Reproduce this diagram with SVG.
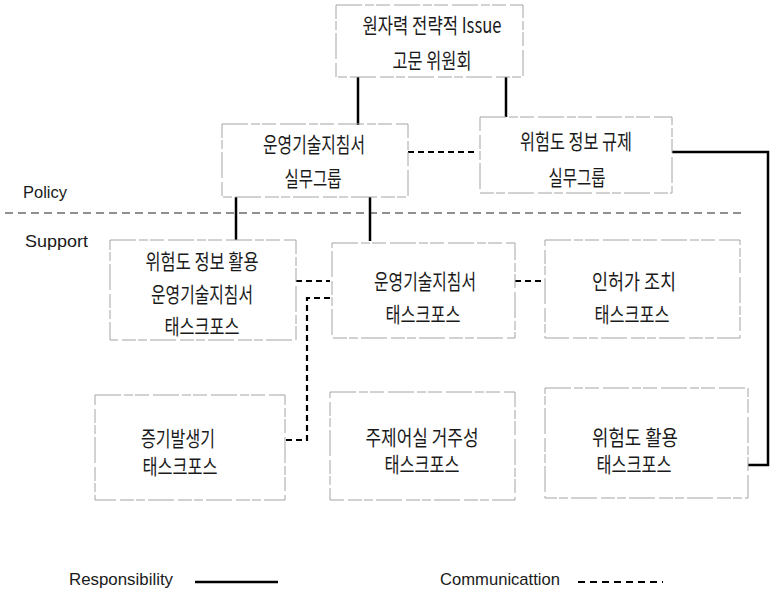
<svg xmlns="http://www.w3.org/2000/svg" width="775" height="595" viewBox="0 0 775 595">
<style>
.box{fill:none;stroke:#a4a4a4;stroke-width:1;stroke-dasharray:26 3 9 2 14 4}
.t{font-family:"Noto Sans CJK KR","Noto Sans",sans-serif;font-size:21px;fill:#1a1a1a;text-anchor:middle;dominant-baseline:central}
.l{font-family:"Liberation Sans",Arial,sans-serif;font-size:17px;fill:#1a1a1a}
.solid{fill:none;stroke:#000;stroke-width:2.5}
.dash{fill:none;stroke:#000;stroke-width:2.2;stroke-dasharray:6 4}
.div{fill:none;stroke:#222;stroke-width:1.1;stroke-dasharray:8 5}
</style>
<rect width="775" height="595" fill="#fff"/>

<g id="divider">
<line class="div" x1="5" y1="213" x2="745" y2="213"/>
<text class="l" x="23" y="198" font-size="18" textLength="44" lengthAdjust="spacingAndGlyphs">Policy</text>
<text class="l" x="25" y="247" font-size="18" textLength="63" lengthAdjust="spacingAndGlyphs">Support</text>
</g>

<g id="connectors">
<polyline class="solid" points="358,77 358,125"/>
<polyline class="solid" points="506,77 506,117"/>
<polyline class="dash" points="408,152 478,152"/>
<polyline class="solid" points="672,152 768,152 768,465 748,465"/>
<polyline class="solid" points="236,197 236,240"/>
<polyline class="solid" points="370,197 370,241"/>
<polyline class="dash" points="296,281 330,281"/>
<polyline class="dash" points="330,298 307,298 307,440 285,440"/>
<polyline class="dash" points="515,281 545,281"/>
</g>

<g id="n-top">
<rect class="box" x="336" y="5" width="187" height="72"/>
<text class="t" x="432" y="24" textLength="139" lengthAdjust="spacingAndGlyphs">원자력 전략적 Issue</text>
<text class="t" x="432" y="59" textLength="79" lengthAdjust="spacingAndGlyphs">고문 위원회</text>
</g>

<g id="n-wg1">
<rect class="box" x="222" y="124" width="186" height="73"/>
<text class="t" x="314" y="143" textLength="102" lengthAdjust="spacingAndGlyphs">운영기술지침서</text>
<text class="t" x="313" y="177" textLength="57" lengthAdjust="spacingAndGlyphs">실무그룹</text>
</g>

<g id="n-wg2">
<rect class="box" x="480" y="117" width="192" height="76"/>
<text class="t" x="576" y="140" textLength="112" lengthAdjust="spacingAndGlyphs">위험도 정보 규제</text>
<text class="t" x="577" y="176" textLength="57" lengthAdjust="spacingAndGlyphs">실무그룹</text>
</g>

<g id="n-tfA">
<rect class="box" x="110" y="240" width="186" height="100"/>
<text class="t" x="202" y="260" textLength="113" lengthAdjust="spacingAndGlyphs">위험도 정보 활용</text>
<text class="t" x="202" y="293" textLength="102" lengthAdjust="spacingAndGlyphs">운영기술지침서</text>
<text class="t" x="202" y="325" textLength="75" lengthAdjust="spacingAndGlyphs">태스크포스</text>
</g>

<g id="n-tfB">
<rect class="box" x="332" y="243" width="183" height="95"/>
<text class="t" x="425" y="280" textLength="102" lengthAdjust="spacingAndGlyphs">운영기술지침서</text>
<text class="t" x="423" y="313" textLength="75" lengthAdjust="spacingAndGlyphs">태스크포스</text>
</g>

<g id="n-tfC">
<rect class="box" x="545" y="240" width="195" height="98"/>
<text class="t" x="634" y="280" textLength="84" lengthAdjust="spacingAndGlyphs">인허가 조치</text>
<text class="t" x="632" y="313" textLength="75" lengthAdjust="spacingAndGlyphs">태스크포스</text>
</g>

<g id="n-tfD">
<rect class="box" x="95" y="395" width="190" height="105"/>
<text class="t" x="178" y="437" textLength="74" lengthAdjust="spacingAndGlyphs">증기발생기</text>
<text class="t" x="180" y="465" textLength="75" lengthAdjust="spacingAndGlyphs">태스크포스</text>
</g>

<g id="n-tfE">
<rect class="box" x="330" y="392" width="185" height="108"/>
<text class="t" x="422" y="436" textLength="113" lengthAdjust="spacingAndGlyphs">주제어실 거주성</text>
<text class="t" x="422" y="463" textLength="75" lengthAdjust="spacingAndGlyphs">태스크포스</text>
</g>

<g id="n-tfF">
<rect class="box" x="545" y="388" width="203" height="110"/>
<text class="t" x="635" y="436" textLength="86" lengthAdjust="spacingAndGlyphs">위험도 활용</text>
<text class="t" x="634" y="463" textLength="75" lengthAdjust="spacingAndGlyphs">태스크포스</text>
</g>

<g id="legend">
<text class="l" x="69" y="585" textLength="104" lengthAdjust="spacingAndGlyphs">Responsibility</text>
<line class="solid" x1="195" y1="582" x2="278" y2="582"/>
<text class="l" x="440" y="585" textLength="120" lengthAdjust="spacingAndGlyphs">Communicattion</text>
<line class="dash" x1="578" y1="582" x2="663" y2="582" style="stroke-dasharray:7 5"/>
</g>
</svg>
